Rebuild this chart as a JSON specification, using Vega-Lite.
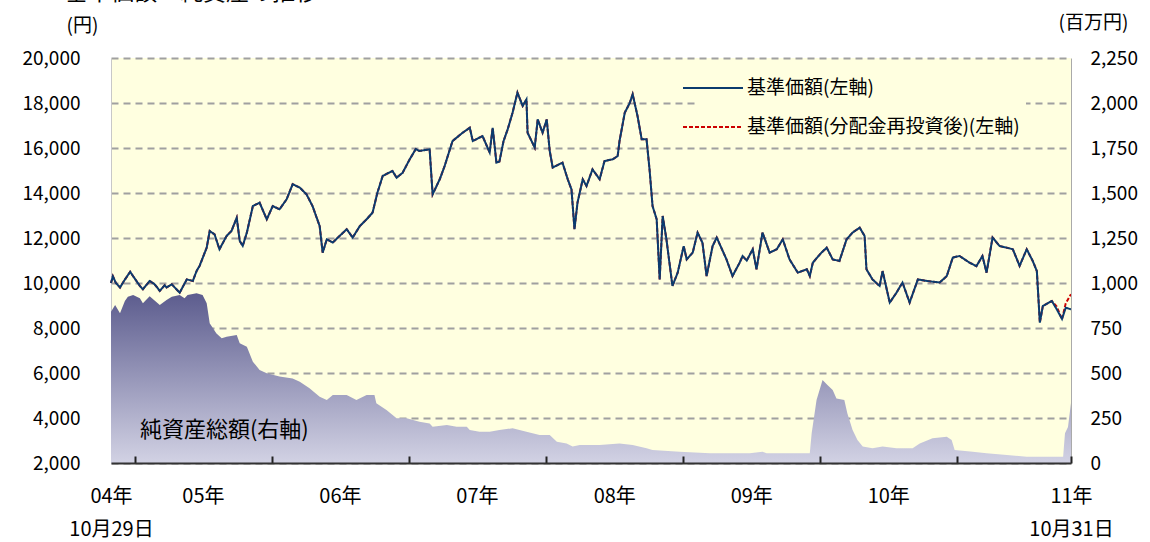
{
  "$schema": "https://vega.github.io/schema/vega-lite/v6.json",
  "width": 960,
  "height": 405,
  "autosize": {"type": "none"},
  "padding": {"left": 111, "top": 58, "right": 79, "bottom": 79},
  "background": "#ffffff",
  "title": {"text": "基準価額・純資産の推移", "anchor": "start", "frame": "group", "fontSize": 23, "fontWeight": "normal", "color": "#000000", "dx": -46, "dy": -4},
  "config": {
    "font": "Noto Sans CJK JP",
    "view": {"fill": "#ffffe0", "stroke": null},
    "axis": {"labelColor": "#000000", "labelFontSize": 19, "titleFontWeight": "normal", "titleColor": "#000000", "titleFontSize": 19}
  },
  "datasets": {
    "nav": [
      {"d": "2004-10-29", "nav": 10000, "re": 10000},
      {"d": "2004-11-03", "nav": 10300, "re": 10300},
      {"d": "2004-11-11", "nav": 10000, "re": 10000},
      {"d": "2004-11-22", "nav": 9800, "re": 9800},
      {"d": "2004-12-03", "nav": 10100, "re": 10100},
      {"d": "2004-12-19", "nav": 10500, "re": 10500},
      {"d": "2004-12-27", "nav": 10300, "re": 10300},
      {"d": "2005-01-14", "nav": 9870, "re": 9870},
      {"d": "2005-01-22", "nav": 9720, "re": 9720},
      {"d": "2005-02-09", "nav": 10090, "re": 10090},
      {"d": "2005-02-22", "nav": 9950, "re": 9950},
      {"d": "2005-03-08", "nav": 9650, "re": 9650},
      {"d": "2005-03-21", "nav": 9900, "re": 9900},
      {"d": "2005-03-26", "nav": 9800, "re": 9800},
      {"d": "2005-04-09", "nav": 9940, "re": 9940},
      {"d": "2005-04-30", "nav": 9570, "re": 9570},
      {"d": "2005-05-19", "nav": 10160, "re": 10160},
      {"d": "2005-06-04", "nav": 10090, "re": 10090},
      {"d": "2005-06-14", "nav": 10530, "re": 10530},
      {"d": "2005-06-22", "nav": 10760, "re": 10760},
      {"d": "2005-07-11", "nav": 11570, "re": 11570},
      {"d": "2005-07-19", "nav": 12310, "re": 12310},
      {"d": "2005-08-01", "nav": 12160, "re": 12160},
      {"d": "2005-08-14", "nav": 11500, "re": 11500},
      {"d": "2005-09-02", "nav": 12090, "re": 12090},
      {"d": "2005-09-15", "nav": 12310, "re": 12310},
      {"d": "2005-09-29", "nav": 12900, "re": 12900},
      {"d": "2005-10-07", "nav": 11870, "re": 11870},
      {"d": "2005-10-15", "nav": 11650, "re": 11650},
      {"d": "2005-10-26", "nav": 12240, "re": 12240},
      {"d": "2005-11-11", "nav": 13420, "re": 13420},
      {"d": "2005-11-29", "nav": 13570, "re": 13570},
      {"d": "2005-12-18", "nav": 12830, "re": 12830},
      {"d": "2006-01-03", "nav": 13420, "re": 13420},
      {"d": "2006-01-21", "nav": 13275, "re": 13275},
      {"d": "2006-02-09", "nav": 13720, "re": 13720},
      {"d": "2006-02-25", "nav": 14390, "re": 14390},
      {"d": "2006-03-16", "nav": 14240, "re": 14240},
      {"d": "2006-04-03", "nav": 13940, "re": 13940},
      {"d": "2006-04-19", "nav": 13420, "re": 13420},
      {"d": "2006-05-08", "nav": 12530, "re": 12530},
      {"d": "2006-05-16", "nav": 11350, "re": 11350},
      {"d": "2006-05-27", "nav": 11940, "re": 11940},
      {"d": "2006-06-12", "nav": 11800, "re": 11800},
      {"d": "2006-06-30", "nav": 12090, "re": 12090},
      {"d": "2006-07-19", "nav": 12390, "re": 12390},
      {"d": "2006-08-04", "nav": 12020, "re": 12020},
      {"d": "2006-08-23", "nav": 12530, "re": 12530},
      {"d": "2006-09-10", "nav": 12830, "re": 12830},
      {"d": "2006-09-26", "nav": 13130, "re": 13130},
      {"d": "2006-10-09", "nav": 14020, "re": 14020},
      {"d": "2006-10-23", "nav": 14760, "re": 14760},
      {"d": "2006-11-18", "nav": 14980, "re": 14980},
      {"d": "2006-11-29", "nav": 14680, "re": 14680},
      {"d": "2006-12-15", "nav": 14900, "re": 14900},
      {"d": "2007-01-03", "nav": 15500, "re": 15500},
      {"d": "2007-01-19", "nav": 15950, "re": 15950},
      {"d": "2007-01-29", "nav": 15870, "re": 15870},
      {"d": "2007-02-25", "nav": 15940, "re": 15940},
      {"d": "2007-03-05", "nav": 13940, "re": 13940},
      {"d": "2007-03-24", "nav": 14610, "re": 14610},
      {"d": "2007-04-06", "nav": 15200, "re": 15200},
      {"d": "2007-04-27", "nav": 16310, "re": 16310},
      {"d": "2007-05-24", "nav": 16680, "re": 16680},
      {"d": "2007-06-12", "nav": 16900, "re": 16900},
      {"d": "2007-06-20", "nav": 16310, "re": 16310},
      {"d": "2007-07-16", "nav": 16530, "re": 16530},
      {"d": "2007-08-04", "nav": 15800, "re": 15800},
      {"d": "2007-08-12", "nav": 16900, "re": 16900},
      {"d": "2007-08-22", "nav": 15350, "re": 15350},
      {"d": "2007-08-30", "nav": 15400, "re": 15400},
      {"d": "2007-09-10", "nav": 16310, "re": 16310},
      {"d": "2007-09-21", "nav": 16830, "re": 16830},
      {"d": "2007-10-04", "nav": 17570, "re": 17570},
      {"d": "2007-10-17", "nav": 18460, "re": 18460},
      {"d": "2007-10-31", "nav": 17870, "re": 17870},
      {"d": "2007-11-10", "nav": 18160, "re": 18160},
      {"d": "2007-11-13", "nav": 16680, "re": 16680},
      {"d": "2007-12-02", "nav": 16020, "re": 16020},
      {"d": "2007-12-10", "nav": 17270, "re": 17270},
      {"d": "2007-12-23", "nav": 16680, "re": 16680},
      {"d": "2008-01-03", "nav": 17270, "re": 17270},
      {"d": "2008-01-11", "nav": 15870, "re": 15870},
      {"d": "2008-01-19", "nav": 15130, "re": 15130},
      {"d": "2008-02-14", "nav": 15350, "re": 15350},
      {"d": "2008-02-28", "nav": 14610, "re": 14610},
      {"d": "2008-03-09", "nav": 14160, "re": 14160},
      {"d": "2008-03-17", "nav": 12390, "re": 12390},
      {"d": "2008-03-25", "nav": 13570, "re": 13570},
      {"d": "2008-04-08", "nav": 14610, "re": 14610},
      {"d": "2008-04-18", "nav": 14310, "re": 14310},
      {"d": "2008-05-04", "nav": 15050, "re": 15050},
      {"d": "2008-05-23", "nav": 14610, "re": 14610},
      {"d": "2008-06-05", "nav": 15420, "re": 15420},
      {"d": "2008-06-27", "nav": 15500, "re": 15500},
      {"d": "2008-07-10", "nav": 15640, "re": 15640},
      {"d": "2008-07-15", "nav": 16310, "re": 16310},
      {"d": "2008-07-29", "nav": 17570, "re": 17570},
      {"d": "2008-08-11", "nav": 17990, "re": 17990},
      {"d": "2008-08-19", "nav": 18390, "re": 18390},
      {"d": "2008-09-01", "nav": 17420, "re": 17420},
      {"d": "2008-09-12", "nav": 16390, "re": 16390},
      {"d": "2008-09-25", "nav": 16390, "re": 16390},
      {"d": "2008-10-03", "nav": 15050, "re": 15050},
      {"d": "2008-10-11", "nav": 13420, "re": 13420},
      {"d": "2008-10-22", "nav": 12830, "re": 12830},
      {"d": "2008-10-30", "nav": 10160, "re": 10160},
      {"d": "2008-11-07", "nav": 12980, "re": 12980},
      {"d": "2008-11-17", "nav": 11940, "re": 11940},
      {"d": "2008-12-03", "nav": 9870, "re": 9870},
      {"d": "2008-12-17", "nav": 10460, "re": 10460},
      {"d": "2009-01-02", "nav": 11640, "re": 11640},
      {"d": "2009-01-10", "nav": 11050, "re": 11050},
      {"d": "2009-01-26", "nav": 11350, "re": 11350},
      {"d": "2009-02-08", "nav": 12240, "re": 12240},
      {"d": "2009-02-21", "nav": 11790, "re": 11790},
      {"d": "2009-03-04", "nav": 10310, "re": 10310},
      {"d": "2009-03-20", "nav": 11640, "re": 11640},
      {"d": "2009-03-31", "nav": 12020, "re": 12020},
      {"d": "2009-04-26", "nav": 11050, "re": 11050},
      {"d": "2009-05-12", "nav": 10310, "re": 10310},
      {"d": "2009-05-31", "nav": 10900, "re": 10900},
      {"d": "2009-06-08", "nav": 11200, "re": 11200},
      {"d": "2009-06-19", "nav": 11000, "re": 11000},
      {"d": "2009-07-05", "nav": 11500, "re": 11500},
      {"d": "2009-07-15", "nav": 10610, "re": 10610},
      {"d": "2009-07-31", "nav": 12240, "re": 12240},
      {"d": "2009-08-19", "nav": 11350, "re": 11350},
      {"d": "2009-09-07", "nav": 11500, "re": 11500},
      {"d": "2009-09-23", "nav": 11940, "re": 11940},
      {"d": "2009-10-11", "nav": 11050, "re": 11050},
      {"d": "2009-11-02", "nav": 10460, "re": 10460},
      {"d": "2009-11-26", "nav": 10610, "re": 10610},
      {"d": "2009-12-04", "nav": 10310, "re": 10310},
      {"d": "2009-12-12", "nav": 10900, "re": 10900},
      {"d": "2010-01-04", "nav": 11350, "re": 11350},
      {"d": "2010-01-18", "nav": 11570, "re": 11570},
      {"d": "2010-02-03", "nav": 11050, "re": 11050},
      {"d": "2010-02-21", "nav": 10980, "re": 10980},
      {"d": "2010-03-12", "nav": 11940, "re": 11940},
      {"d": "2010-03-28", "nav": 12240, "re": 12240},
      {"d": "2010-04-16", "nav": 12460, "re": 12460},
      {"d": "2010-04-29", "nav": 12090, "re": 12090},
      {"d": "2010-05-04", "nav": 10610, "re": 10610},
      {"d": "2010-05-20", "nav": 10160, "re": 10160},
      {"d": "2010-06-08", "nav": 9870, "re": 9870},
      {"d": "2010-06-16", "nav": 10530, "re": 10530},
      {"d": "2010-07-05", "nav": 9130, "re": 9130},
      {"d": "2010-07-23", "nav": 9570, "re": 9570},
      {"d": "2010-08-08", "nav": 10020, "re": 10020},
      {"d": "2010-08-27", "nav": 9130, "re": 9130},
      {"d": "2010-09-18", "nav": 10160, "re": 10160},
      {"d": "2010-10-12", "nav": 10090, "re": 10090},
      {"d": "2010-11-15", "nav": 10020, "re": 10020},
      {"d": "2010-12-04", "nav": 10310, "re": 10310},
      {"d": "2010-12-20", "nav": 11130, "re": 11130},
      {"d": "2011-01-07", "nav": 11200, "re": 11200},
      {"d": "2011-02-03", "nav": 10900, "re": 10900},
      {"d": "2011-02-21", "nav": 10750, "re": 10750},
      {"d": "2011-03-09", "nav": 11200, "re": 11200},
      {"d": "2011-03-20", "nav": 10460, "re": 10460},
      {"d": "2011-04-05", "nav": 12020, "re": 12020},
      {"d": "2011-04-24", "nav": 11640, "re": 11640},
      {"d": "2011-05-13", "nav": 11570, "re": 11570},
      {"d": "2011-05-29", "nav": 11500, "re": 11500},
      {"d": "2011-06-16", "nav": 10760, "re": 10760},
      {"d": "2011-07-05", "nav": 11500, "re": 11500},
      {"d": "2011-07-21", "nav": 10980, "re": 10980},
      {"d": "2011-08-01", "nav": 10530, "re": 10530},
      {"d": "2011-08-09", "nav": 8240, "re": 8240},
      {"d": "2011-08-17", "nav": 8980, "re": 8980},
      {"d": "2011-09-10", "nav": 9200, "re": 9200},
      {"d": "2011-09-23", "nav": 8830, "re": 8950},
      {"d": "2011-10-07", "nav": 8400, "re": 8390},
      {"d": "2011-10-17", "nav": 8900, "re": 9100},
      {"d": "2011-10-31", "nav": 8830, "re": 9500}
    ],
    "assets": [
      {"d": "2004-10-29", "a": 840},
      {"d": "2004-11-09", "a": 878},
      {"d": "2004-11-22", "a": 832},
      {"d": "2004-12-05", "a": 900},
      {"d": "2004-12-13", "a": 924},
      {"d": "2004-12-27", "a": 933},
      {"d": "2005-01-14", "a": 915},
      {"d": "2005-01-22", "a": 887},
      {"d": "2005-02-09", "a": 926},
      {"d": "2005-03-08", "a": 878},
      {"d": "2005-03-26", "a": 906},
      {"d": "2005-04-09", "a": 924},
      {"d": "2005-04-30", "a": 933},
      {"d": "2005-05-13", "a": 915},
      {"d": "2005-05-21", "a": 933},
      {"d": "2005-06-14", "a": 943},
      {"d": "2005-06-30", "a": 933},
      {"d": "2005-07-11", "a": 887},
      {"d": "2005-07-19", "a": 776},
      {"d": "2005-08-06", "a": 720},
      {"d": "2005-08-20", "a": 693},
      {"d": "2005-09-02", "a": 702},
      {"d": "2005-09-29", "a": 711},
      {"d": "2005-10-07", "a": 665},
      {"d": "2005-10-26", "a": 646},
      {"d": "2005-11-11", "a": 563},
      {"d": "2005-11-29", "a": 517},
      {"d": "2005-12-18", "a": 498},
      {"d": "2006-01-21", "a": 480},
      {"d": "2006-02-25", "a": 470},
      {"d": "2006-03-16", "a": 452},
      {"d": "2006-04-11", "a": 415},
      {"d": "2006-05-08", "a": 368},
      {"d": "2006-05-27", "a": 350},
      {"d": "2006-06-12", "a": 378},
      {"d": "2006-07-19", "a": 378},
      {"d": "2006-08-14", "a": 350},
      {"d": "2006-09-10", "a": 378},
      {"d": "2006-10-01", "a": 378},
      {"d": "2006-10-06", "a": 332},
      {"d": "2006-11-02", "a": 294},
      {"d": "2006-11-29", "a": 248},
      {"d": "2006-12-26", "a": 248},
      {"d": "2007-01-29", "a": 229},
      {"d": "2007-02-25", "a": 220},
      {"d": "2007-03-05", "a": 202},
      {"d": "2007-04-12", "a": 211},
      {"d": "2007-05-08", "a": 202},
      {"d": "2007-06-04", "a": 202},
      {"d": "2007-06-12", "a": 183},
      {"d": "2007-07-08", "a": 174},
      {"d": "2007-08-04", "a": 174},
      {"d": "2007-08-30", "a": 183},
      {"d": "2007-10-04", "a": 193},
      {"d": "2007-11-10", "a": 174},
      {"d": "2007-12-15", "a": 156},
      {"d": "2008-01-11", "a": 156},
      {"d": "2008-01-30", "a": 118},
      {"d": "2008-02-25", "a": 109},
      {"d": "2008-03-12", "a": 91},
      {"d": "2008-03-31", "a": 100},
      {"d": "2008-05-23", "a": 100},
      {"d": "2008-07-15", "a": 109},
      {"d": "2008-08-19", "a": 100},
      {"d": "2008-09-25", "a": 82},
      {"d": "2008-10-11", "a": 72},
      {"d": "2008-12-22", "a": 63},
      {"d": "2009-03-13", "a": 54},
      {"d": "2009-06-27", "a": 54},
      {"d": "2009-07-31", "a": 63},
      {"d": "2009-08-11", "a": 54},
      {"d": "2009-12-04", "a": 54},
      {"d": "2009-12-09", "a": 165},
      {"d": "2009-12-22", "a": 350},
      {"d": "2010-01-07", "a": 461},
      {"d": "2010-01-20", "a": 433},
      {"d": "2010-02-03", "a": 406},
      {"d": "2010-02-13", "a": 359},
      {"d": "2010-03-06", "a": 350},
      {"d": "2010-03-14", "a": 276},
      {"d": "2010-03-28", "a": 183},
      {"d": "2010-04-10", "a": 128},
      {"d": "2010-04-24", "a": 91},
      {"d": "2010-05-20", "a": 82},
      {"d": "2010-06-16", "a": 91},
      {"d": "2010-07-23", "a": 82},
      {"d": "2010-09-04", "a": 82},
      {"d": "2010-09-23", "a": 109},
      {"d": "2010-10-27", "a": 137},
      {"d": "2010-12-04", "a": 146},
      {"d": "2010-12-17", "a": 128},
      {"d": "2010-12-25", "a": 72},
      {"d": "2011-02-11", "a": 63},
      {"d": "2011-03-20", "a": 54},
      {"d": "2011-05-13", "a": 44},
      {"d": "2011-07-05", "a": 35},
      {"d": "2011-10-10", "a": 35},
      {"d": "2011-10-15", "a": 165},
      {"d": "2011-10-23", "a": 200},
      {"d": "2011-10-31", "a": 333}
    ],
    "label": [
      {"d": "2005-01-14", "v": 183, "t": "純資産総額(右軸)"}
    ]
  },
  "resolve": {"scale": {"y": "independent"}, "axis": {"x": "independent"}},
  "layer": [
    {
      "layer": [
        {
          "data": {"name": "assets"},
          "mark": {"type": "area", "fill": {"gradient": "linear", "x1": 0, "y1": 0, "x2": 0, "y2": 1, "stops": [{"offset": 0, "color": "#5c5c8e"}, {"offset": 1, "color": "#d2d2e4"}]}},
          "encoding": {
            "x": {"field": "d", "type": "temporal", "scale": {"type": "utc", "domain": [{"year": 2004, "month": 10, "date": 29, "utc": true}, {"year": 2011, "month": 10, "date": 31, "utc": true}]},
              "axis": {"orient": "bottom", "title": null, "labels": false, "grid": false, "zindex": 2, "domainColor": "#333333", "domainWidth": 2, "tickColor": "#222222", "tickWidth": 2, "tickSize": -7,
                "values": [{"year": 2005, "month": 1, "date": 1, "utc": true}, {"year": 2006, "month": 1, "date": 1, "utc": true}, {"year": 2007, "month": 1, "date": 1, "utc": true}, {"year": 2008, "month": 1, "date": 1, "utc": true}, {"year": 2009, "month": 1, "date": 1, "utc": true}, {"year": 2010, "month": 1, "date": 1, "utc": true}, {"year": 2011, "month": 1, "date": 1, "utc": true}, {"year": 2011, "month": 10, "date": 31, "utc": true}]}},
            "y": {"field": "a", "type": "quantitative", "scale": {"domain": [0, 2250], "nice": false, "zero": true},
              "axis": {"orient": "right", "title": "(百万円)", "titleAngle": 0, "titleX": 22, "titleY": -36, "titleAlign": "center", "titleBaseline": "middle", "values": [0, 250, 500, 750, 1000, 1250, 1500, 1750, 2000, 2250], "format": ",d", "grid": false, "ticks": false, "tickSize": 0, "labelPadding": 19, "domainColor": "#aaaaaa", "domainWidth": 1, "zindex": 1}}
          }
        },
        {
          "data": {"name": "label"},
          "mark": {"type": "text", "align": "left", "baseline": "middle", "fontSize": 22, "color": "#000000"},
          "encoding": {
            "x": {"field": "d", "type": "temporal"},
            "y": {"field": "v", "type": "quantitative"},
            "text": {"field": "t"}
          }
        }
      ]
    },
    {
      "data": {"name": "nav"},
      "transform": [{"fold": ["re", "nav"], "as": ["series", "value"]}],
      "mark": {"type": "line", "strokeWidth": 2, "interpolate": "linear"},
      "encoding": {
        "x": {"field": "d", "type": "temporal", "scale": {"type": "utc"},
          "axis": {"orient": "bottom", "title": null, "domain": false, "ticks": false, "tickSize": 0, "grid": false, "labelFlush": false, "labelOverlap": false, "labelFontSize": 20, "labelPadding": 23, "labelLineHeight": 33, "labelBaseline": "top", "zindex": 1,
            "values": [{"year": 2004, "month": 10, "date": 29, "utc": true}, {"year": 2005, "month": 7, "date": 1, "utc": true}, {"year": 2006, "month": 7, "date": 1, "utc": true}, {"year": 2007, "month": 7, "date": 1, "utc": true}, {"year": 2008, "month": 7, "date": 1, "utc": true}, {"year": 2009, "month": 7, "date": 1, "utc": true}, {"year": 2010, "month": 7, "date": 1, "utc": true}, {"year": 2011, "month": 10, "date": 31, "utc": true}],
            "labelExpr": "utcyear(datum.value) == 2004 ? ['04年', '10月29日'] : utcyear(datum.value) == 2011 ? ['11年', '10月31日'] : utcFormat(datum.value, '%y年')"}},
        "y": {"field": "value", "type": "quantitative", "scale": {"domain": [2000, 20000], "nice": false, "zero": false},
          "axis": {"orient": "left", "title": "(円)", "titleAngle": 0, "titleX": -29, "titleY": -33, "titleAlign": "center", "titleBaseline": "middle", "values": [2000, 4000, 6000, 8000, 10000, 12000, 14000, 16000, 18000, 20000], "format": ",d", "ticks": false, "tickSize": 0, "labelPadding": 31, "grid": true, "gridColor": "#a0a0a0", "gridDash": [7, 5], "gridWidth": 2, "domainColor": "#c8c8c8", "domainWidth": 1}},
        "color": {"field": "series", "type": "nominal", "scale": {"domain": ["nav", "re"], "range": ["#0b3b6e", "#cc0000"]},
          "legend": {"title": null, "orient": "none", "legendX": 585, "legendY": 13, "direction": "vertical", "fillColor": "#ffffe0", "padding": 6, "symbolType": "M-3,0L3,0", "symbolSize": 400, "symbolStrokeWidth": 2, "labelOffset": 23, "labelFontSize": 19, "labelColor": "#000000", "labelLimit": 600, "rowPadding": 18,
            "labelExpr": "datum.label == 'nav' ? '基準価額(左軸)' : '基準価額(分配金再投資後)(左軸)'"}},
        "strokeDash": {"field": "series", "type": "nominal", "scale": {"domain": ["nav", "re"], "range": [[1, 0], [4, 2]]}}
      }
    }
  ]
}
